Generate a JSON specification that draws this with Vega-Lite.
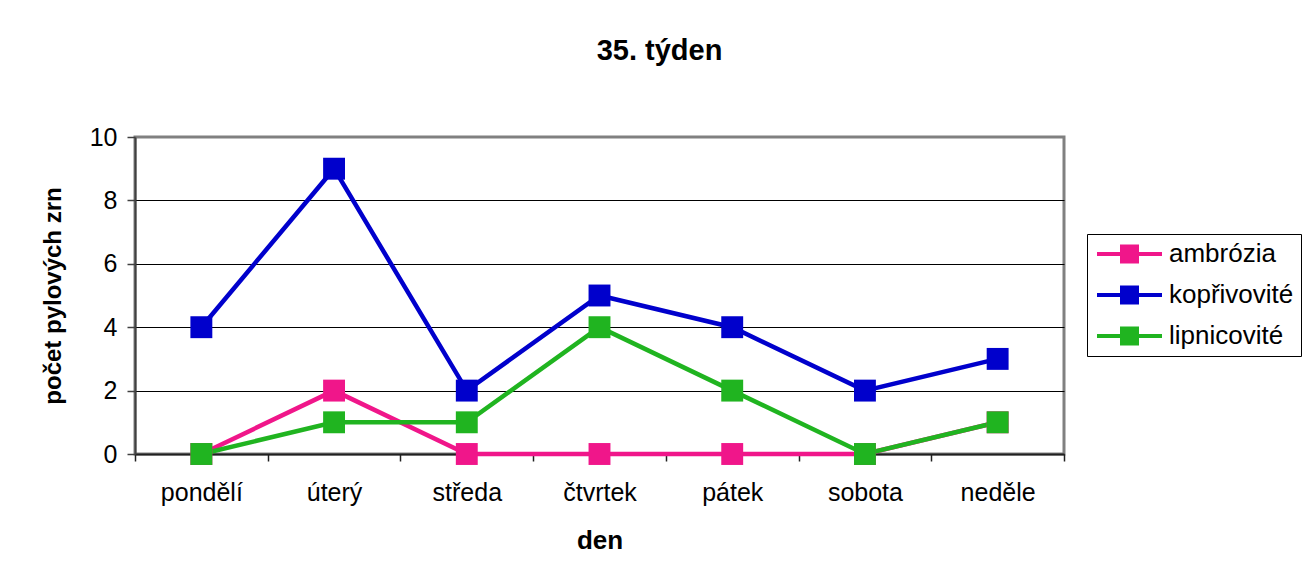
{
  "$schema": "https://vega.github.io/schema/vega-lite/v6.json",
  "width": 929,
  "height": 317,
  "autosize": "none",
  "padding": {"left": 135, "top": 137, "right": 240, "bottom": 129},
  "background": "white",
  "config": {
    "font": "Liberation Sans",
    "view": {"stroke": "#808080", "strokeWidth": 3}
  },
  "title": {
    "text": "35. týden",
    "fontSize": 29,
    "fontWeight": "bold",
    "font": "Liberation Sans",
    "color": "black",
    "anchor": "middle",
    "frame": "group",
    "dx": 60,
    "offset": 59
  },
  "data": {
    "values": [
      {"den": "pondělí", "druh": "ambrózia", "pocet": 0},
      {"den": "úterý", "druh": "ambrózia", "pocet": 2},
      {"den": "středa", "druh": "ambrózia", "pocet": 0},
      {"den": "čtvrtek", "druh": "ambrózia", "pocet": 0},
      {"den": "pátek", "druh": "ambrózia", "pocet": 0},
      {"den": "sobota", "druh": "ambrózia", "pocet": 0},
      {"den": "neděle", "druh": "ambrózia", "pocet": 1},
      {"den": "pondělí", "druh": "kopřivovité", "pocet": 4},
      {"den": "úterý", "druh": "kopřivovité", "pocet": 9},
      {"den": "středa", "druh": "kopřivovité", "pocet": 2},
      {"den": "čtvrtek", "druh": "kopřivovité", "pocet": 5},
      {"den": "pátek", "druh": "kopřivovité", "pocet": 4},
      {"den": "sobota", "druh": "kopřivovité", "pocet": 2},
      {"den": "neděle", "druh": "kopřivovité", "pocet": 3},
      {"den": "pondělí", "druh": "lipnicovité", "pocet": 0},
      {"den": "úterý", "druh": "lipnicovité", "pocet": 1},
      {"den": "středa", "druh": "lipnicovité", "pocet": 1},
      {"den": "čtvrtek", "druh": "lipnicovité", "pocet": 4},
      {"den": "pátek", "druh": "lipnicovité", "pocet": 2},
      {"den": "sobota", "druh": "lipnicovité", "pocet": 0},
      {"den": "neděle", "druh": "lipnicovité", "pocet": 1}
    ]
  },
  "mark": {
    "type": "line",
    "strokeWidth": 4.5,
    "point": {"shape": "square", "size": 480, "filled": true, "opacity": 1}
  },
  "encoding": {
    "x": {
      "field": "den",
      "type": "nominal",
      "sort": ["pondělí", "úterý", "středa", "čtvrtek", "pátek", "sobota", "neděle"],
      "bandPosition": 0.5,
      "scale": {"type": "band", "paddingInner": 0, "paddingOuter": 0},
      "axis": {
        "title": "den",
        "titleFontSize": 26,
        "titleFontWeight": "bold",
        "titleColor": "black",
        "titlePadding": 22,
        "labelAngle": 0,
        "labelFontSize": 25,
        "labelColor": "black",
        "labelPadding": 19,
        "tickBand": "extent",
        "tickSize": 7,
        "tickColor": "#202020",
        "tickWidth": 1.5,
        "domainColor": "#202020",
        "domainWidth": 2,
        "grid": false
      }
    },
    "y": {
      "field": "pocet",
      "type": "quantitative",
      "scale": {"domain": [0, 10], "nice": false},
      "axis": {
        "title": "počet pylových zrn",
        "titleFontSize": 24,
        "titleFontWeight": "bold",
        "titleColor": "black",
        "titlePadding": 24,
        "values": [0, 2, 4, 6, 8, 10],
        "labelFontSize": 25,
        "labelColor": "black",
        "labelPadding": 10,
        "tickSize": 8,
        "tickColor": "#404040",
        "tickWidth": 1.5,
        "domainColor": "#404040",
        "domainWidth": 2,
        "grid": true,
        "gridColor": {"condition": {"test": "datum.value == 10", "value": "#808080"}, "value": "black"},
        "gridWidth": 1,
        "gridOpacity": 1
      }
    },
    "color": {
      "field": "druh",
      "type": "nominal",
      "scale": {
        "domain": ["ambrózia", "kopřivovité", "lipnicovité"],
        "range": ["#F0168A", "#0000CC", "#20B420"]
      },
      "legend": {
        "title": null,
        "orient": "none",
        "legendX": 952,
        "legendY": 97,
        "direction": "vertical",
        "padding": 7,
        "strokeColor": "black",
        "fillColor": "white",
        "labelFontSize": 26,
        "labelColor": "black",
        "labelOffset": 49,
        "symbolType": "M-1,-0.2H5.5V0.2H-1Z M1.3,-0.95H3.2V0.95H1.3Z",
        "symbolSize": 400,
        "symbolStrokeWidth": 0,
        "symbolOpacity": 1,
        "rowPadding": 15,
        "encode": {
          "symbols": {
            "update": {
              "fill": {"scale": "color", "field": "value"},
              "stroke": {"value": "transparent"}
            }
          }
        }
      }
    }
  }
}
